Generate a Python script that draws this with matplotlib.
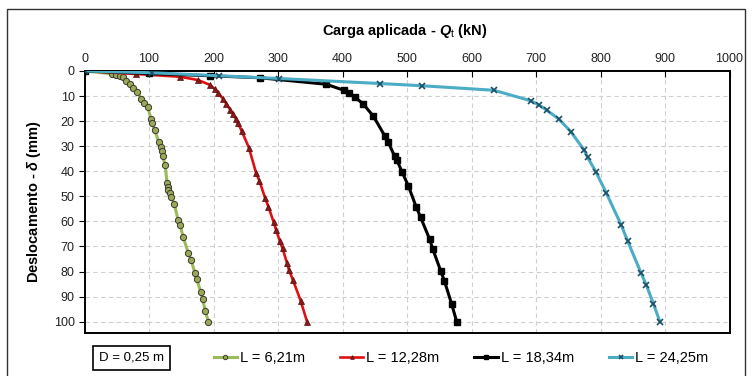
import matplotlib
matplotlib.use("Agg")
import matplotlib.pyplot as plt
from matplotlib.patches import Rectangle

plt.rcParams['font.family'] = ['Liberation Sans', 'DejaVu Sans']
plt.rcParams['mathtext.fontset'] = 'custom'
plt.rcParams['mathtext.rm'] = 'Liberation Sans'
plt.rcParams['mathtext.it'] = 'Liberation Sans:italic:bold'
plt.rcParams['mathtext.bf'] = 'Liberation Sans:bold'

# L = 6,21 m
load_621 = [0, 42, 49, 55, 60, 65, 70, 75, 82, 88, 92, 98, 103, 105, 109, 115, 118, 120,
            121, 125, 128, 129, 130, 132, 134, 139, 145, 148, 153, 161, 165, 171, 174,
            180, 183, 187, 192]
disp_621 = [0, 1.1, 1.5, 1.9, 2.4, 3.8, 5.1, 6.7, 8.3, 11.2, 12.8, 14.5, 19.1, 20.8, 23.7,
            28.3, 30.3, 32.1, 34.1, 37.4, 44.7, 46.1, 47.4, 48.7, 50.1, 53.0, 59.3, 61.3,
            66.3, 72.7, 75.3, 80.4, 83.1, 88.0, 90.8, 95.6, 100]

# L = 12,28 m
load_1228 = [0, 80, 148, 176, 194, 202, 207, 215, 220, 226, 230, 235, 238, 244, 255,
             266, 271, 280, 285, 293, 297, 303, 307, 314, 317, 323, 335, 345]
disp_1228 = [0, 1.2, 2.3, 3.6, 5.5, 7.2, 8.6, 11.2, 13.1, 15.5, 17.2, 19.2, 20.8, 24.1,
             30.7, 40.7, 43.7, 50.7, 54.1, 60.1, 63.4, 68.0, 70.7, 76.7, 79.4, 83.3, 91.6, 100]

# L = 18,34 m
load_1834 = [0, 100, 194, 272, 375, 402, 410, 419, 432, 448, 466, 471, 481, 484, 492, 502,
             514, 521, 535, 540, 552, 558, 569, 577]
disp_1834 = [0, 1.0, 1.9, 2.7, 5.3, 7.7, 8.8, 10.4, 13.1, 18.1, 26.1, 28.5, 34.1, 35.4,
             40.1, 45.8, 54.1, 58.3, 67.1, 71.1, 79.6, 83.8, 92.8, 100]

# L = 24,25 m
load_2425 = [0, 104, 209, 302, 458, 524, 635, 692, 704, 717, 735, 754, 775, 780, 793, 809,
             832, 842, 863, 871, 882, 892]
disp_2425 = [0, 0.7, 1.9, 3.0, 5.0, 5.9, 7.7, 11.9, 13.5, 15.7, 19.1, 24.2, 31.7, 34.5,
             40.3, 48.7, 61.4, 67.8, 80.7, 85.4, 92.8, 100]

labels = ["L = 6,21m", "L = 12,28m", "L = 18,34m", "L = 24,25m"]

fig = plt.figure(figsize=(7.52, 3.76), dpi=100)
ax = fig.add_axes([0.1124, 0.1152, 0.8577, 0.696])

ax.plot(load_621, disp_621, color='#9bbb59', lw=2.2, marker='o', ms=4.5,
        mfc='#9aa85a', mec='#3a3a2a', mew=0.7, label=labels[0], zorder=3)
ax.plot(load_1228, disp_1228, color='#e01010', lw=1.9, marker='^', ms=3.8,
        mfc='#8a1a1a', mec='#5a0a0a', mew=0.5, label=labels[1], zorder=3)
ax.plot(load_1834, disp_1834, color='black', lw=2.2, marker='s', ms=3.8,
        mfc='black', mec='black', label=labels[2], zorder=3)
ax.plot(load_2425, disp_2425, color='#4bacc6', lw=2.2, marker='x', ms=5,
        mec='#1d4f66', mew=1.2, label=labels[3], zorder=4)

ax.set_xlim(0, 1000)
ax.set_ylim(104.4, 0)
ax.set_xticks(range(0, 1001, 100))
ax.set_yticks(range(0, 101, 10))
ax.xaxis.tick_top()
ax.tick_params(axis='x', direction='in', length=4, width=0.8, pad=4,
               labelsize=9, labelcolor='#222222')
ax.tick_params(axis='y', direction='out', length=4, width=0.8, pad=3,
               labelsize=9, labelcolor='#222222')
ax.grid(True, color='#cfcfcf', lw=0.8, ls=(0, (4, 3)))
ax.set_axisbelow(True)
for s in ax.spines.values():
    s.set_linewidth(1.4)
    s.set_color('black')

fig.text(0.538, 0.918, r"Carga aplicada - $Q_{\mathrm{t}}$ (kN)", ha='center', va='center',
         fontsize=10.5, fontweight='bold')
fig.text(0.045, 0.465, r"Deslocamento - $\delta$ (mm)", ha='center', va='center',
         rotation=90, fontsize=10.5, fontweight='bold')

fig.text(0.1745, 0.048, "D = 0,25 m", ha='center', va='center', fontsize=9.5,
         bbox=dict(boxstyle='square,pad=0.45', fc='white', ec='black', lw=1.2))

fig.legend(loc='center', bbox_to_anchor=(0.613, 0.048), ncol=4, frameon=False,
           fontsize=10.5, handlelength=1.6, handletextpad=0.2, columnspacing=2.4,
           markerscale=0.7)

fig.add_artist(Rectangle((0.009, -0.05), 0.982, 1.026, transform=fig.transFigure,
                         fill=False, ec='#333333', lw=1.0))

fig.savefig("out.png", dpi=100)
